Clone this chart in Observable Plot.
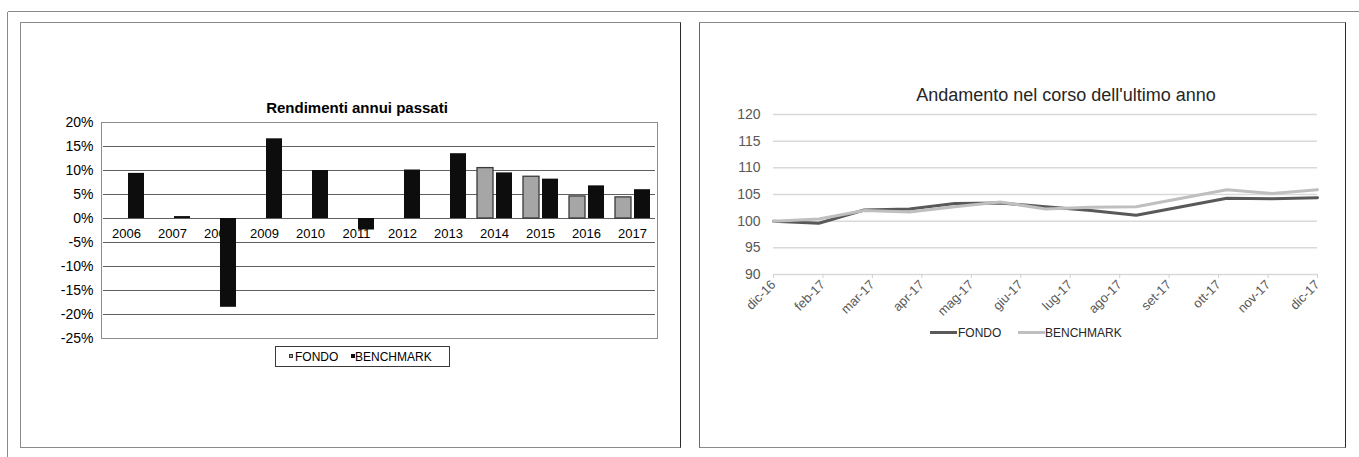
<!DOCTYPE html>
<html><head><meta charset="utf-8">
<script src="https://cdn.jsdelivr.net/npm/d3@7"></script>
<script src="https://cdn.jsdelivr.net/npm/@observablehq/plot@0.6"></script>
<style>
html,body{margin:0;padding:0;background:#fff;}
#root{position:relative;width:1359px;height:457px;overflow:hidden;font-family:"Liberation Sans",Arial,sans-serif;}
</style></head><body><div id="root"></div>
<script>
// ---- Left chart data ----
const years = ["2006","2007","2008","2009","2010","2011","2012","2013","2014","2015","2016","2017"];
const series = ["FONDO","BENCHMARK"];
const fondo = [null,null,null,null,null,null,null,null,10.5,8.7,4.6,4.4];
const benchmark = [9.4,0.4,-18.5,16.6,10.0,-2.4,10.1,13.5,9.5,8.2,6.8,6.0];
const barTicks = [-25,-20,-15,-10,-5,0,5,10,15,20];
const barTitle = "Rendimenti annui passati";

// ---- Right chart data ----
const monthLabels = ["dic-16","feb-17","mar-17","apr-17","mag-17","giu-17","lug-17","ago-17","set-17","ott-17","nov-17","dic-17"];
const fondoLine = [100,99.6,102.1,102.3,103.3,103.4,102.7,102.0,101.1,102.7,104.3,104.2,104.4];
const benchLine = [100,100.4,102.0,101.7,102.7,103.6,102.3,102.6,102.7,104.3,105.9,105.2,105.9];
const lineTicks = [90,95,100,105,110,115,120];
const lineTitle = "Andamento nel corso dell'ultimo anno";

const root = document.getElementById("root");
const FONT = '"Liberation Sans", Arial, sans-serif';
function add(el, css){ el.style.position = "absolute"; Object.assign(el.style, css); root.appendChild(el); return el; }
function div(css, html){ const d = document.createElement("div"); if (html != null) d.innerHTML = html; return add(d, css); }

// ---- Left bar chart ----
const L = {x:20, y:23, w:661, h:425, mL:81, mR:24, mT:99, mB:110};
const rows = [];
years.forEach((yr, i) => {
  if (fondo[i] != null) rows.push({year: yr, series: "FONDO", value: fondo[i]});
  if (benchmark[i] != null) rows.push({year: yr, series: "BENCHMARK", value: benchmark[i]});
});
const barPlot = Plot.plot({
  width: L.w, height: L.h,
  marginLeft: L.mL, marginRight: L.mR, marginTop: L.mT, marginBottom: L.mB,
  style: {fontFamily: FONT, fontSize: "14px", color: "#000", background: "transparent"},
  fx: {domain: years, padding: 0, axis: null},
  x: {domain: series, paddingInner: 0.18, paddingOuter: 0.3, axis: null},
  y: {domain: [-25, 20], ticks: barTicks, tickFormat: d => d + "%", tickSize: 0, tickPadding: 10, label: null},
  color: {domain: series, range: ["#a6a6a6", "#0d0d0d"]},
  marks: [
    Plot.ruleY(barTicks, {stroke: "#5f5f5f", strokeWidth: 1}),
    Plot.text(years, {fx: d => d, y: d => 0, text: d => d, dy: 15, fontSize: 13, fill: "#000"}),
    Plot.barY(rows.filter(d => d.series === "FONDO"), {fx: "year", x: "series", y: "value", fill: "series", stroke: "#3a3a3a", strokeWidth: 1.3}),
    Plot.barY(rows.filter(d => d.series === "BENCHMARK"), {fx: "year", x: "series", y: "value", fill: "series"})
  ]
});
add(barPlot, {left: L.x + "px", top: L.y + "px"});
// plot-area frame
div({left: (L.x + L.mL) + "px", top: (L.y + L.mT) + "px", width: (L.w - L.mL - L.mR + 1) + "px", height: (L.h - L.mT - L.mB + 1) + "px",
     border: "1px solid #8c8c8c", boxSizing: "border-box"});
div({left: "0px", top: "99px", width: "714px", textAlign: "center", fontSize: "15px", fontWeight: "bold", lineHeight: "18px", color: "#000", fontFamily: FONT}, barTitle);
// legend left
const lg = div({left: "275px", top: "346px", width: "175px", height: "21px", border: "1px solid #3a3a3a", boxSizing: "border-box", fontFamily: FONT, fontSize: "12px", color: "#000"});
lg.innerHTML = '<div style="position:absolute;left:13px;top:7px;width:4px;height:4px;background:#a6a6a6;border:1px solid #333;box-sizing:border-box"></div>' +
  '<div style="position:absolute;left:19px;top:3px;line-height:14px">' + series[0] + '</div>' +
  '<div style="position:absolute;left:75px;top:7px;width:4px;height:4px;background:#0d0d0d"></div>' +
  '<div style="position:absolute;left:79px;top:3px;line-height:14px">' + series[1] + '</div>';

// ---- Right line chart ----
const R = {x:699, y:23, w:646, h:425, mL:74, mR:28, mT:91, mB:174};
const nPts = fondoLine.length - 1;
const xTicks = monthLabels.map((_, i) => i * nPts / (monthLabels.length - 1));
const linePlot = Plot.plot({
  width: R.w, height: R.h,
  marginLeft: R.mL, marginRight: R.mR, marginTop: R.mT, marginBottom: R.mB,
  style: {fontFamily: FONT, fontSize: "14px", color: "#595959", background: "transparent"},
  x: {domain: [0, nPts]},
  y: {domain: [90, 120]},
  marks: [
    Plot.ruleY(lineTicks, {stroke: "#d9d9d9", strokeWidth: 1.5}),
    Plot.axisY({ticks: lineTicks, tickSize: 0, tickPadding: 13, fontSize: 14, fill: "#595959", label: null}),
    Plot.axisX({ticks: xTicks, tickFormat: d => monthLabels[Math.round(d * (monthLabels.length - 1) / nPts)],
      tickRotate: -45, tickSize: 4, tickPadding: 4, fontSize: 13, stroke: "#d0d0d0", fill: "#595959", label: null}),
    Plot.line(fondoLine, {x: (d, i) => i, y: d => d, stroke: "#595959", strokeWidth: 3}),
    Plot.line(benchLine, {x: (d, i) => i, y: d => d, stroke: "#bfbfbf", strokeWidth: 3})
  ]
});
add(linePlot, {left: R.x + "px", top: R.y + "px"});
div({left: "866px", top: "84px", width: "400px", textAlign: "center", fontSize: "18px", lineHeight: "22px", color: "#262626", fontFamily: FONT}, lineTitle);
// legend right
const lr = div({left: "930px", top: "325px", width: "200px", height: "16px", fontFamily: FONT, fontSize: "12px", color: "#262626"});
lr.innerHTML = '<div style="position:absolute;left:0px;top:6px;width:27px;height:3px;background:#595959"></div>' +
  '<div style="position:absolute;left:28px;top:1px;line-height:14px">' + series[0] + '</div>' +
  '<div style="position:absolute;left:88px;top:6px;width:27px;height:3px;background:#bfbfbf"></div>' +
  '<div style="position:absolute;left:115px;top:1px;line-height:14px">' + series[1] + '</div>';

// ---- Frames ----
div({left: "8px", top: "11px", width: "1351px", height: "0px", borderTop: "1.5px solid #8a8a8a"});
div({left: "7px", top: "12px", width: "0px", height: "445px", borderLeft: "1.5px solid #8a8a8a"});
div({left: "20px", top: "22px", width: "661px", height: "426px", boxSizing: "border-box",
     borderTop: "1.5px solid #8a8a8a", borderBottom: "1.5px solid #8a8a8a", borderLeft: "1.5px solid #8a8a8a", borderRight: "1.5px solid #2a2a2a"});
div({left: "699px", top: "22px", width: "647px", height: "426px", boxSizing: "border-box",
     borderTop: "1.5px solid #8a8a8a", borderBottom: "1.5px solid #8a8a8a", borderLeft: "1.5px solid #6a6a6a", borderRight: "1.5px solid #2a2a2a"});
</script>
</body></html>
